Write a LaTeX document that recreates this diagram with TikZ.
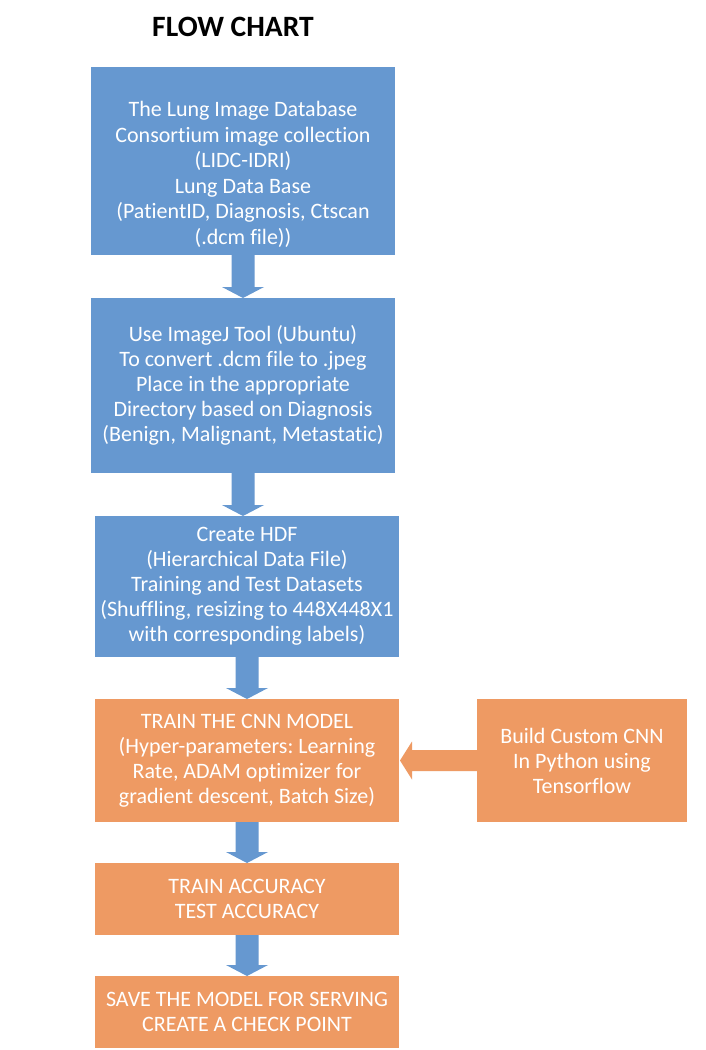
\documentclass[tikz,border=0pt]{standalone}
\usepackage{fontspec}
\setmainfont{Carlito}[Ligatures=NoCommon]
\usetikzlibrary{calc}
\definecolor{boxblue}{RGB}{102,152,208}
\definecolor{boxorange}{RGB}{238,154,99}
\tikzset{
  box/.style={rectangle, inner sep=0pt, outer sep=0pt, anchor=north west, text=white,
    align=center, font=\fontsize{22}{25}\selectfont\frenchspacing},
  bluebox/.style={box, fill=boxblue},
  orangebox/.style={box, fill=boxorange},
}
\newcommand\dnarr[3]{%
  \fill[#3] ($(#1.south)+(-11.5,0)$) -- ($(#1.south)+(11.5,0)$)
    -- ($(#1.south |- #2.north)+(11.5,-11)$) -- ($(#1.south |- #2.north)+(21,-11)$)
    -- (#1.south |- #2.north) -- ($(#1.south |- #2.north)+(-21,-11)$)
    -- ($(#1.south |- #2.north)+(-11.5,-11)$) -- cycle;}
\begin{document}
\begin{tikzpicture}[x=1pt,y=-1pt]
\useasboundingbox[fill=white] (0,0) rectangle (706,1050);
\node[font=\fontsize{29.5}{32}\bfseries\selectfont] (title) at (233,27) {FLOW CHART};
\node[bluebox, minimum width=304pt, minimum height=188pt, font=\fontsize{22}{25.6}\selectfont\frenchspacing] (b1) at (91,67)
  {\rule{0pt}{42pt}The Lung Image Database\\Consortium image collection\\(LIDC-IDRI)\\Lung Data Base\\(PatientID, Diagnosis, Ctscan\\(.dcm file))};
\node[bluebox, minimum width=304pt, minimum height=175pt] (b2) at (91,298)
  {Use ImageJ Tool (Ubuntu)\\To convert .dcm file to .jpeg\\Place in the appropriate\\Directory based on Diagnosis\\(Benign, Malignant, Metastatic)};
\node[bluebox, minimum width=304pt, minimum height=141pt] (b3) at (95,516)
  {Create HDF\\(Hierarchical Data File)\\Training and Test Datasets\\(Shuffling, resizing to 448X448X1\\with corresponding labels)};
\node[orangebox, minimum width=304pt, minimum height=123pt] (b4) at (95,699)
  {TRAIN THE CNN MODEL\\(Hyper-parameters: Learning\\Rate, ADAM optimizer for\\gradient descent, Batch Size)};
\node[orangebox, minimum width=304pt, minimum height=72pt] (b5) at (95,863)
  {TRAIN ACCURACY\\TEST ACCURACY};
\node[orangebox, minimum width=304pt, minimum height=72pt] (b6) at (95,976)
  {SAVE THE MODEL FOR SERVING\\CREATE A CHECK POINT};
\node[orangebox, minimum width=210pt, minimum height=123pt] (r) at (477,699)
  {Build Custom CNN\\In Python using\\Tensorflow};
\dnarr{b1}{b2}{boxblue}
\dnarr{b2}{b3}{boxblue}
\dnarr{b3}{b4}{boxblue}
\dnarr{b4}{b5}{boxblue}
\dnarr{b5}{b6}{boxblue}
% left arrow from r to b4
\fill[boxorange] ($(r.west)+(0,-10.5)$) -- ($(r.west)+(0,10.5)$)
  -- ($(b4.east |- r.west)+(13,10.5)$) -- ($(b4.east |- r.west)+(13,19)$)
  -- ($(b4.east |- r.west)+(1,0)$) -- ($(b4.east |- r.west)+(13,-19)$)
  -- ($(b4.east |- r.west)+(13,-10.5)$) -- cycle;
\end{tikzpicture}
\end{document}
